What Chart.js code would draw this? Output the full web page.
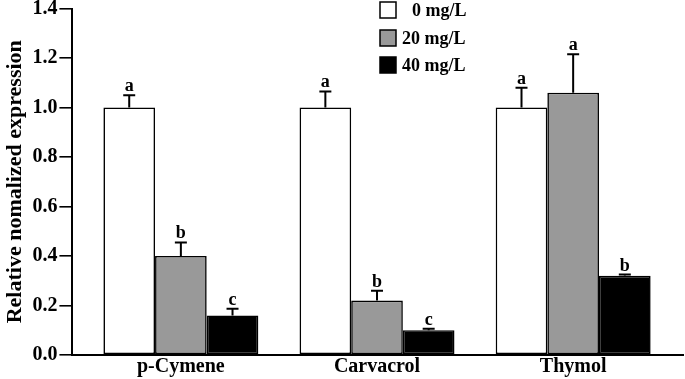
<!DOCTYPE html>
<html>
<head>
<meta charset="utf-8">
<script src="https://cdn.jsdelivr.net/npm/chart.js@4/dist/chart.umd.min.js"></script>
<style>
html,body{margin:0;padding:0;background:#fff;}
#c{display:block;}
</style>
</head>
<body>
<canvas id="c" width="685" height="379"></canvas>
<script>
const categories = ["p-Cymene", "Carvacrol", "Thymol"];
const seriesLabels = ["0 mg/L", "20 mg/L", "40 mg/L"];
const values0 = [1.00, 1.00, 1.00];
const values20 = [0.40, 0.22, 1.06];
const values40 = [0.16, 0.10, 0.32];
const errors0 = [0.05, 0.065, 0.08];
const errors20 = [0.055, 0.04, 0.155];
const errors40 = [0.027, 0.006, 0.005];
const letters0 = ["a", "a", "a"];
const letters20 = ["b", "b", "a"];
const letters40 = ["c", "c", "b"];
const yTicks = [0, 0.2, 0.4, 0.6, 0.8, 1.0, 1.2, 1.4];

const FONT = "'Liberation Serif', 'Times New Roman', serif";
const fills = ["#ffffff", "#999999", "#000000"];
const seriesValues = [values0, values20, values40];
const seriesErrors = [errors0, errors20, errors40];
const seriesLetters = [letters0, letters20, letters40];

const datasets = seriesValues.map((vals, d) => ({
  label: seriesLabels[d],
  data: vals.map((v, i) => ({x: i + 0.5, y: v})),
  backgroundColor: fills[d],
  borderColor: "#000",
  borderWidth: 1.6,
  borderSkipped: false,
  categoryPercentage: 0.79,
  barPercentage: 1.0
}));

const annot = {
  id: "annot",
  afterDatasetsDraw(chart) {
    const ctx = chart.ctx;
    const ys = chart.scales.y;
    ctx.save();
    seriesValues.forEach((vals, d) => {
      const meta = chart.getDatasetMeta(d);
      meta.data.forEach((bar, i) => {
        const top = ys.getPixelForValue(vals[i]);
        const cap = ys.getPixelForValue(vals[i] + seriesErrors[d][i]);
        ctx.strokeStyle = "#000";
        ctx.lineWidth = 2;
        ctx.beginPath();
        ctx.moveTo(bar.x, top);
        ctx.lineTo(bar.x, cap);
        ctx.moveTo(bar.x - 6, cap);
        ctx.lineTo(bar.x + 6, cap);
        ctx.stroke();
        ctx.fillStyle = "#000";
        ctx.font = "bold 18px " + FONT;
        ctx.textAlign = "center";
        ctx.textBaseline = "alphabetic";
        ctx.fillText(seriesLetters[d][i], bar.x, cap - 4);
      });
    });
    // legend
    const lx = 380, ly = [2, 30, 57], box = 16;
    ctx.font = "bold 18px " + FONT;
    ctx.textAlign = "left";
    ctx.textBaseline = "middle";
    seriesLabels.forEach((lab, d) => {
      ctx.fillStyle = fills[d];
      ctx.fillRect(lx, ly[d], box, box);
      ctx.strokeStyle = "#000";
      ctx.lineWidth = 1.5;
      ctx.strokeRect(lx, ly[d], box, box);
      ctx.fillStyle = "#000";
      ctx.fillText(lab, d === 0 ? 412 : 402, ly[d] + box / 2 + 1);
    });
    ctx.restore();
  }
};

new Chart(document.getElementById("c"), {
  type: "bar",
  data: { datasets },
  options: {
    responsive: false,
    animation: false,
    layout: { padding: { top: 0, right: 2, left: 2, bottom: 0 } },
    plugins: { legend: { display: false }, tooltip: { enabled: false } },
    scales: {
      x: {
        type: "linear",
        offset: false,
        bounds: "ticks",
        min: -0.053,
        max: 3.06,
        afterBuildTicks(scale) { scale.ticks = categories.map((c, i) => ({ value: i + 0.5 })); },
        ticks: {
          autoSkip: false,
          maxRotation: 0,
          color: "#000",
          font: { family: FONT, size: 20, weight: "bold", lineHeight: 1.2 },
          padding: 0,
          callback: (v) => categories[Math.round(v - 0.5)]
        },
        grid: { display: false, drawTicks: false, offset: false },
        border: { display: true, color: "#000", width: 2 }
      },
      y: {
        min: 0,
        max: 1.4,
        afterBuildTicks(scale) { scale.ticks = yTicks.map(v => ({ value: v })); },
        ticks: {
          color: "#000",
          font: { family: FONT, size: 20, weight: "bold", lineHeight: 0.65 },
          padding: 2,
          callback: (v) => Number(v).toFixed(1)
        },
        grid: { drawOnChartArea: false, drawTicks: true, tickLength: 13, color: "#000", lineWidth: 1.6 },
        border: { display: true, color: "#000", width: 2 },
        title: {
          display: true,
          text: "Relative nomalized expression",
          color: "#000",
          font: { family: FONT, size: 22, weight: "bold" },
          padding: { top: 0, bottom: 2 }
        }
      }
    }
  },
  plugins: [annot]
});
</script>
</body>
</html>
